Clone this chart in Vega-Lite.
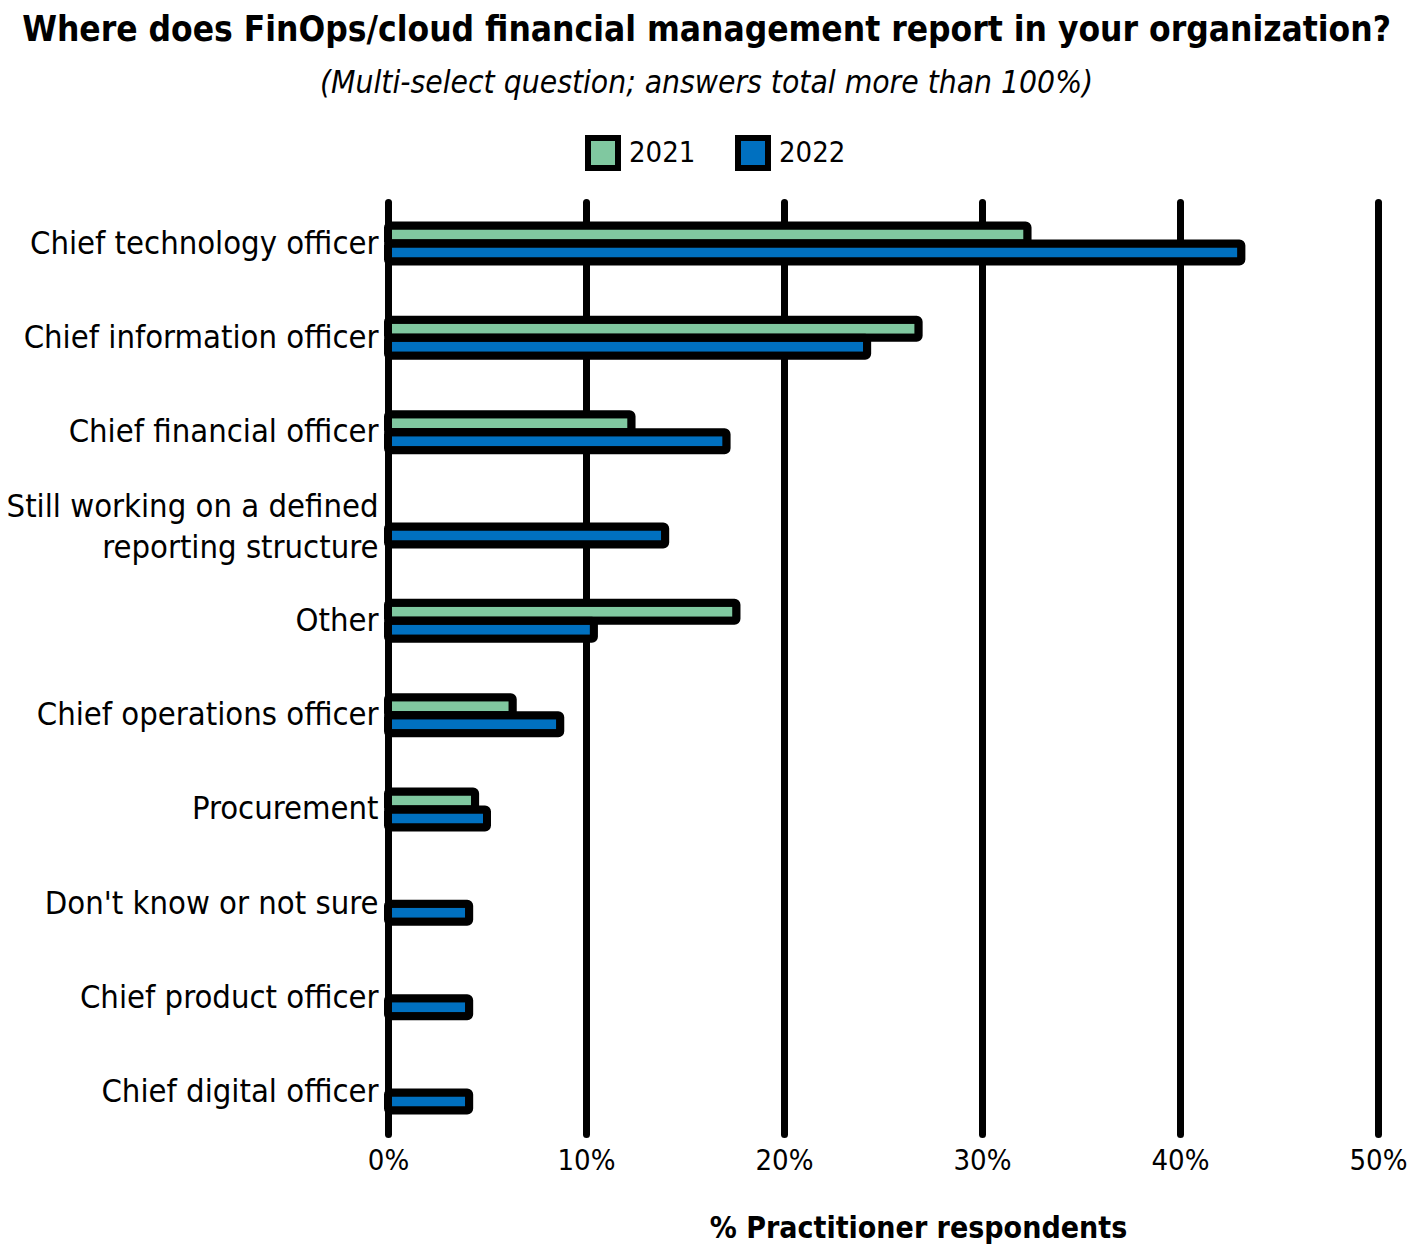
{
  "$schema": "https://vega.github.io/schema/vega-lite/v6.json",
  "width": 990,
  "height": 932,
  "autosize": {"type": "none"},
  "padding": {"left": 388, "top": 202, "right": 31, "bottom": 117},
  "background": "white",
  "title": {
    "text": "Where does FinOps/cloud financial management report in your organization?",
    "subtitle": "(Multi-select question; answers total more than 100%)",
    "anchor": "middle",
    "frame": "bounds",
    "font": "DejaVu Sans Condensed",
    "fontSize": 35,
    "fontWeight": "bold",
    "color": "black",
    "subtitleFont": "DejaVu Sans Condensed",
    "subtitleFontSize": 31.5,
    "subtitleFontStyle": "italic",
    "subtitleColor": "black",
    "subtitlePadding": 20,
    "offset": 36
  },
  "data": {
    "values": [
      {"role": "Chief technology officer", "year": "2021", "pct": 32.3},
      {"role": "Chief technology officer", "year": "2022", "pct": 43.1},
      {"role": "Chief information officer", "year": "2021", "pct": 26.8},
      {"role": "Chief information officer", "year": "2022", "pct": 24.2},
      {"role": "Chief financial officer", "year": "2021", "pct": 12.3},
      {"role": "Chief financial officer", "year": "2022", "pct": 17.1},
      {"role": "Still working on a defined reporting structure", "year": "2022", "pct": 14.0},
      {"role": "Other", "year": "2021", "pct": 17.6},
      {"role": "Other", "year": "2022", "pct": 10.4},
      {"role": "Chief operations officer", "year": "2021", "pct": 6.3},
      {"role": "Chief operations officer", "year": "2022", "pct": 8.7},
      {"role": "Procurement", "year": "2021", "pct": 4.4},
      {"role": "Procurement", "year": "2022", "pct": 5.0},
      {"role": "Don't know or not sure", "year": "2022", "pct": 4.1},
      {"role": "Chief product officer", "year": "2022", "pct": 4.1},
      {"role": "Chief digital officer", "year": "2022", "pct": 4.1}
    ]
  },
  "mark": {"type": "bar", "stroke": "black", "strokeWidth": 8, "cornerRadius": 2, "strokeJoin": "round"},
  "encoding": {
    "y": {
      "field": "role",
      "type": "nominal",
      "sort": null,
      "scale": {"paddingInner": 0.618, "paddingOuter": 0.249},
      "axis": {
        "title": null,
        "domain": false,
        "ticks": false,
        "labelFont": "DejaVu Sans Condensed",
        "labelFontSize": 32.5,
        "labelColor": "black",
        "labelPadding": 10,
        "labelLimit": 0,
        "labelExpr": "datum.value == 'Still working on a defined reporting structure' ? ['Still working on a defined', 'reporting structure'] : datum.value",
        "labelLineHeight": 41,
        "labelOffset": {"condition": {"test": "datum.value == 'Still working on a defined reporting structure'", "value": -20}, "value": 0}
      }
    },
    "yOffset": {
      "field": "year",
      "type": "nominal",
      "scale": {"domain": ["2021", "2022"], "paddingInner": 0, "paddingOuter": 0}
    },
    "x": {
      "field": "pct",
      "type": "quantitative",
      "scale": {"domain": [0, 50], "nice": false},
      "axis": {
        "values": [0, 10, 20, 30, 40, 50],
        "labelExpr": "datum.value + '%'",
        "domain": false,
        "ticks": false,
        "grid": true,
        "gridColor": "black",
        "gridWidth": 7,
        "gridCap": "round",
        "gridOpacity": 1,
        "labelFont": "DejaVu Sans Condensed",
        "labelFontSize": 29,
        "labelColor": "black",
        "labelPadding": 12,
        "labelFlush": false,
        "title": "% Practitioner respondents",
        "titleFont": "DejaVu Sans Condensed",
        "titleFontSize": 30,
        "titleFontWeight": "bold",
        "titleColor": "black",
        "titlePadding": 38,
        "titleX": 530
      }
    },
    "color": {
      "field": "year",
      "type": "nominal",
      "scale": {"domain": ["2021", "2022"], "range": ["#80c8a0", "#0070c0"]},
      "legend": {
        "title": null,
        "orient": "none",
        "direction": "horizontal",
        "legendX": 197,
        "legendY": -67,
        "symbolType": "square",
        "symbolSize": 900,
        "symbolStrokeColor": "black",
        "symbolStrokeWidth": 6,
        "labelFont": "DejaVu Sans Condensed",
        "labelFontSize": 29,
        "labelColor": "black",
        "columnPadding": 30,
        "labelOffset": 8
      }
    }
  },
  "config": {"view": {"stroke": null}}
}
